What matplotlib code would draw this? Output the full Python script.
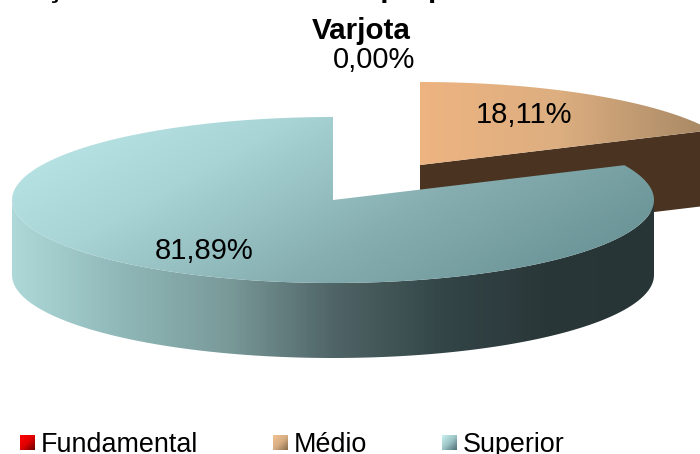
# pizza 3D: formação dos docentes, Varjota
import numpy as np
import matplotlib
matplotlib.use('Agg')
import matplotlib.pyplot as plt
from matplotlib.colors import LinearSegmentedColormap
from matplotlib.patches import Polygon

plt.rcParams['font.family'] = ['Liberation Sans', 'DejaVu Sans']

categories = ['Fundamental', 'Médio', 'Superior']
shares = [0.00, 18.11, 81.89]
title_top = 'Formações dos docentes das próprias escolas da rede'
title_bottom = 'Varjota'

W, H = 700, 454
RX, RY, DEPTH = 321, 83, 75
centers = {'Fundamental': (333, 200), 'Médio': (420, 165), 'Superior': (333, 200)}
label_pos = {'Fundamental': (374, 60), 'Médio': (524, 115), 'Superior': (204, 251)}
legend_x = {'Fundamental': 20, 'Médio': 273, 'Superior': 442}

red_cmap = LinearSegmentedColormap.from_list('r', ['#ff0000', '#e00000', '#700000'])
tan_cmap = LinearSegmentedColormap.from_list('t', ['#eeb480', '#dcae80', '#aa8a66'])
tan_key = LinearSegmentedColormap.from_list('tk', ['#f0c090', '#d8ae84', '#8a7050'])
teal_cmap = LinearSegmentedColormap.from_list('tl', ['#c0eaec', '#a8d4d6', '#86aeb0', '#6a9397'])
teal_key = LinearSegmentedColormap.from_list('tlk', ['#c8f0f0', '#9cc4c6', '#507074'])
wall_cmap = LinearSegmentedColormap.from_list(
    'w', ['#aed8d8', '#90b8b8', '#7a9a9a', '#506567', '#344648', '#2a3739', '#283537'])


def arc(center, t1, t2, dy=0):
    t = np.radians(np.linspace(t1, t2, 200))
    return np.column_stack([center[0] + RX * np.cos(t), center[1] + dy - RY * np.sin(t)])


def fill(ax, pts, cmap, func, z):
    # gradiente recortado pelo poligono
    xx, yy = np.meshgrid(np.arange(W) + 0.5, np.arange(H) + 0.5)
    img = ax.imshow(func(xx, yy), cmap=cmap, vmin=0, vmax=1, extent=(0, W, H, 0),
                    interpolation='bilinear', aspect='auto', zorder=z)
    img.set_clip_path(Polygon(pts, closed=True, transform=ax.transData))


fig = plt.figure(figsize=(W / 100, H / 100), dpi=100)
ax = fig.add_axes([0, 0, 1, 1])

# angulos: sentido horario a partir do topo
angle = 90.0
spans = {}
for name, share in zip(categories, shares):
    spans[name] = (angle, angle - share * 3.6)
    angle -= share * 3.6

# Medio primeiro, fica atras
a1, a2 = spans['Médio']
c = centers['Médio']
edge = arc(c, a2, a2)[0]
ax.add_patch(Polygon([c, edge, edge + [0, DEPTH], (c[0], c[1] + DEPTH)], closed=True,
                     facecolor='#4a3320', edgecolor='none', zorder=1))
fill(ax, np.vstack([[c], arc(c, a2, a1)]), tan_cmap, lambda x, y: (x - 420) / 280, 2)

# Superior
a1, a2 = spans['Superior']
c = centers['Superior']
wall = np.vstack([arc(c, 0, -180), arc(c, -180, 0, DEPTH)])
fill(ax, wall, wall_cmap, lambda x, y: np.clip((x - 12) / 641, 0, 1), 3)
fill(ax, np.vstack([[c], arc(c, a2, a1)]), teal_cmap,
     lambda x, y: np.clip(0.75 * (x - 12) / 641 + 0.35 * (y - 117) / 166, 0, 1), 4)

for name, share in zip(categories, shares):
    x, y = label_pos[name]
    ax.text(x, y, f'{share:.2f}%'.replace('.', ','), fontsize=21, color='black',
            ha='center', va='center', zorder=6)

ax.text(-44, -3, title_top, fontsize=21.3, fontweight='bold', ha='left', va='baseline', zorder=6)
ax.text(361, 39, title_bottom, fontsize=21.3, fontweight='bold', ha='center', va='baseline', zorder=6)

# legenda
keys = {'Fundamental': red_cmap, 'Médio': tan_key, 'Superior': teal_key}
for name in categories:
    x = legend_x[name]
    grad = np.add.outer(np.linspace(0, 0.5, 16), np.linspace(0, 0.5, 16))
    ax.imshow(grad, cmap=keys[name], vmin=0, vmax=1, extent=(x, x + 15, 450, 435),
              interpolation='bilinear', aspect='auto', zorder=5)
    ax.text(x + 21, 452, name, fontsize=19.4, color='black', ha='left', va='baseline', zorder=6)

ax.set_xlim(0, W)
ax.set_ylim(H, 0)
ax.axis('off')
fig.savefig('out.png', dpi=100)
